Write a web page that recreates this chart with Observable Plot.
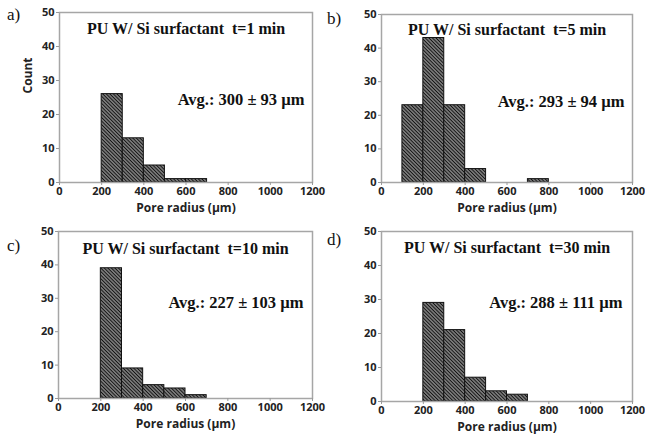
<!DOCTYPE html>
<html><head><meta charset="utf-8">
<script src="https://cdn.jsdelivr.net/npm/d3@7"></script>
<script src="https://cdn.jsdelivr.net/npm/@observablehq/plot@0.6"></script>
<style>
body{margin:0;background:#fff;}
#wrap{position:relative;width:645px;height:434px;overflow:hidden;background:#fff;}
#wrap .panel{position:absolute;}
#wrap svg{overflow:visible;}
svg text{white-space:pre;}
#letters{position:absolute;left:0;top:0;pointer-events:none;}
</style></head><body>
<svg width="0" height="0" style="position:absolute">
  <defs>
    <pattern id="hatch" patternUnits="userSpaceOnUse" width="2.5" height="2.5" patternTransform="rotate(45)">
      <rect width="2.5" height="2.5" fill="#9a9a9a"></rect>
      <line x1="0" y1="1.25" x2="2.5" y2="1.25" stroke="#111" stroke-width="1.25"></line>
    </pattern>
  </defs>
</svg>
<div id="wrap"></div>
<script>
// ---- data ----
const binWidth = 100;
const aStart = [200, 300, 400, 500, 600];
const aCount = [26, 13, 5, 1, 1];
const bStart = [100, 200, 300, 400, 700];
const bCount = [23, 43, 23, 4, 1];
const cStart = [200, 300, 400, 500, 600];
const cCount = [39, 9, 4, 3, 1];
const dStart = [200, 300, 400, 500, 600];
const dCount = [29, 21, 7, 3, 2];
const titles = ["PU W/ Si surfactant \u00a0t=1 min", "PU W/ Si surfactant \u00a0t=5 min", "PU W/ Si surfactant \u00a0t=10 min", "PU W/ Si surfactant \u00a0t=30 min"];
const avgLabels = ["Avg.: 300 \u00b1 93 \u00b5m", "Avg.: 293 \u00b1 94 \u00b5m", "Avg.: 227 \u00b1 103 \u00b5m", "Avg.: 288 \u00b1 111 \u00b5m"];
const letters = ["a)", "b)", "c)", "d)"];
const xTicks = [0, 200, 400, 600, 800, 1000, 1200];
const yTicks = [0, 10, 20, 30, 40, 50];
const xLabel = "Pore radius (\u00b5m)";
const yLabel = "Count";

// ---- layout ----
const panels = [
  {start: aStart, count: aCount, left: 0,   top: 0,   w: 322, h: 215, ml: 59, mr: 10, mt: 12, mb: 33, tdy: 16, adx: -8,  ady: 87, ylab: true,  lx: 7,   ly: 20},
  {start: bStart, count: bCount, left: 322, top: 0,   w: 323, h: 215, ml: 59, mr: 13, mt: 14, mb: 33, tdy: 15, adx: -8,  ady: 87, ylab: false, lx: 327, ly: 24},
  {start: cStart, count: cCount, left: 0,   top: 215, w: 322, h: 219, ml: 58, mr: 10, mt: 16, mb: 36, tdy: 17, adx: -9,  ady: 71, ylab: false, lx: 7,   ly: 251},
  {start: dStart, count: dCount, left: 322, top: 215, w: 323, h: 219, ml: 59, mr: 13, mt: 16, mb: 33, tdy: 16, adx: -10, ady: 71, ylab: false, lx: 327, ly: 245}
];

const wrap = document.getElementById("wrap");
const serif = "'Liberation Serif', 'Times New Roman', serif";
const sans = "'Open Sans', 'Noto Sans', sans-serif";

panels.forEach((p, k) => {
  const idx = p.start.map((_, i) => i);
  const marks = [
    Plot.rectY(idx, {
      x1: i => p.start[i], x2: i => p.start[i] + binWidth, y: i => p.count[i],
      fill: "url(#hatch)", stroke: "#111", strokeWidth: 1
    }),
    Plot.frame({stroke: "#a6a6a6", strokeWidth: 1.5}),
    Plot.axisX({ticks: xTicks, tickFormat: d => String(d), tickSize: 3, tickPadding: 2, stroke: "#999", fill: "#222", label: null, fontWeight: "bold", fontSize: 11, fontFamily: sans}),
    Plot.axisY({ticks: yTicks, tickFormat: d => String(d), tickSize: 3, tickPadding: 2, stroke: "#999", fill: "#222", label: null, fontWeight: "bold", fontSize: 11, fontFamily: sans}),
    Plot.text([xLabel], {text: d => d, frameAnchor: "bottom", lineAnchor: "middle", dy: 26, fontSize: 12, fontWeight: "bold", fontFamily: sans, fill: "#222"}),
    Plot.text([titles[k]], {text: d => d, frameAnchor: "top", lineAnchor: "middle", dy: p.tdy, fontSize: 16, fontWeight: "bold", fontFamily: serif, fill: "#111"}),
    Plot.text([avgLabels[k]], {text: d => d, frameAnchor: "top-right", textAnchor: "end", lineAnchor: "middle", dx: p.adx, dy: p.ady, fontSize: 16.5, fontWeight: "bold", fontFamily: serif, fill: "#111"})
  ];
  if (p.ylab) {
    marks.push(Plot.text([yLabel], {text: d => d, frameAnchor: "left", rotate: -90, dx: -31, dy: -4, fontSize: 12, fontWeight: "bold", fontFamily: sans, fill: "#222"}));
  }
  const chart = Plot.plot({
    width: p.w, height: p.h,
    marginLeft: p.ml, marginRight: p.mr, marginTop: p.mt, marginBottom: p.mb,
    x: {domain: [0, 1200]},
    y: {domain: [0, 50]},
    style: {fontFamily: sans, background: "transparent", overflow: "visible"},
    marks
  });
  const div = document.createElement("div");
  div.className = "panel";
  div.style.left = p.left + "px";
  div.style.top = p.top + "px";
  div.appendChild(chart);
  wrap.appendChild(div);
});

// panel letters
const ns = "http://www.w3.org/2000/svg";
const ov = document.createElementNS(ns, "svg");
ov.setAttribute("id", "letters");
ov.setAttribute("width", 645);
ov.setAttribute("height", 434);
panels.forEach((p, k) => {
  const t = document.createElementNS(ns, "text");
  t.setAttribute("x", p.lx);
  t.setAttribute("y", p.ly);
  t.setAttribute("font-family", serif);
  t.setAttribute("font-size", 17);
  t.setAttribute("fill", "#111");
  t.textContent = letters[k];
  ov.appendChild(t);
});
wrap.appendChild(ov);
</script>
</body></html>
